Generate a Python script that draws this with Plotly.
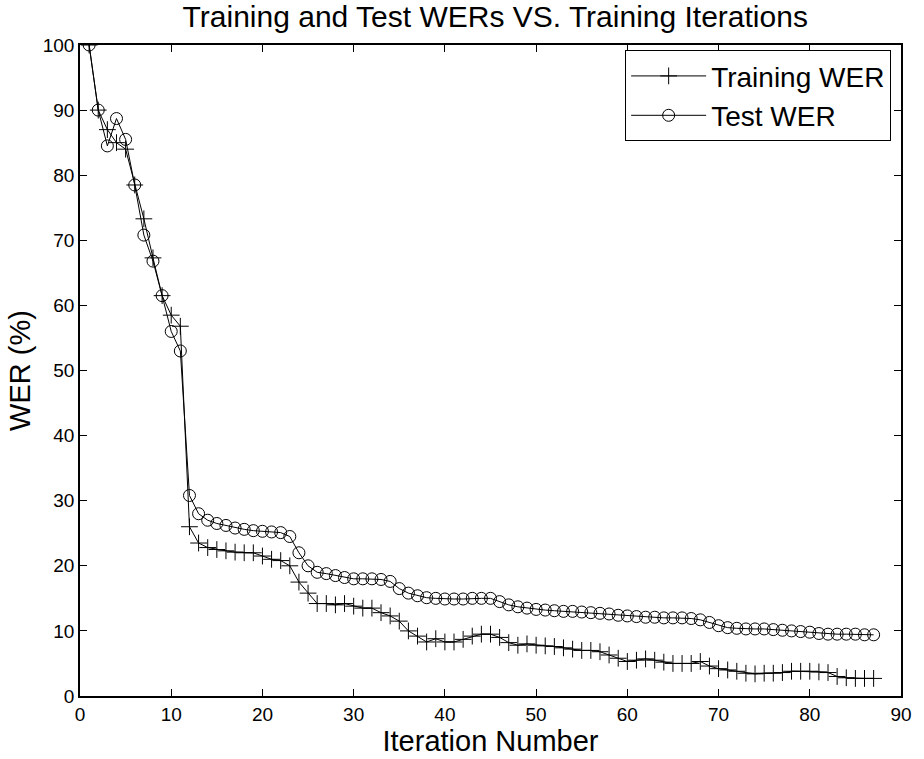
import plotly.graph_objects as go

iterations = list(range(1, 88))

training_wer = [100, 90, 87, 85, 84, 78.5, 73.3, 67.3, 61.5, 58.5,
                56.8, 26, 23.5, 22.8, 22.5, 22.3, 22.1, 22, 22, 21.5,
                21, 20.8, 20, 17.5, 15.8, 14.2, 14.2, 14, 14.2, 13.8,
                13.5, 13.5, 12.8, 12.3, 11.5, 10, 9.2, 8.3, 8.8, 8.3,
                8.3, 8.7, 9.2, 9.5, 9.5, 9, 8.2, 7.8, 8, 7.8,
                7.7, 7.6, 7.4, 7.2, 7, 7, 6.8, 6.3, 5.8, 5.3,
                5.5, 5.7, 5.5, 5.2, 5, 5, 5, 5.3, 4.6, 4.2,
                4, 3.8, 3.5, 3.4, 3.5, 3.5, 3.6, 3.8, 3.8, 3.8,
                3.7, 3.6, 3, 2.8, 2.7, 2.7, 2.7]

test_wer = [100, 90, 84.5, 88.7, 85.5, 78.5, 70.8, 66.8, 61.5, 56,
            53, 30.8, 28, 27, 26.5, 26.2, 25.8, 25.6, 25.4, 25.3,
            25.2, 25.1, 24.5, 22, 20, 19, 18.8, 18.5, 18.2, 18,
            18, 18, 17.9, 17.6, 16.5, 15.8, 15.4, 15.1, 15, 14.9,
            14.9, 14.9, 15, 15, 15, 14.5, 14, 13.7, 13.5, 13.3,
            13.2, 13.1, 13, 13, 12.9, 12.8, 12.7, 12.6, 12.4, 12.3,
            12.2, 12.1, 12.1, 12, 12, 12, 11.9, 11.7, 11.3, 10.8,
            10.5, 10.4, 10.3, 10.3, 10.3, 10.2, 10.1, 10, 9.9, 9.8,
            9.6, 9.5, 9.5, 9.5, 9.5, 9.4, 9.4]

x_ticks = [0, 10, 20, 30, 40, 50, 60, 70, 80, 90]
y_ticks = [0, 10, 20, 30, 40, 50, 60, 70, 80, 90, 100]

FONT = "Liberation Sans, Arial, Helvetica, sans-serif"

fig = go.Figure()
fig.add_trace(go.Scatter(
    x=iterations, y=training_wer, mode="lines+markers", name="Training WER",
    line=dict(color="black", width=1),
    marker=dict(symbol="cross-thin-open", size=12, color="black",
                line=dict(color="black", width=1)),
))
fig.add_trace(go.Scatter(
    x=iterations, y=test_wer, mode="lines+markers", name="Test WER",
    line=dict(color="black", width=1),
    marker=dict(symbol="circle-open", size=12, color="black",
                line=dict(color="black", width=1)),
))

axis_common = dict(
    showline=True, linecolor="black", linewidth=1.5, mirror="ticks",
    ticks="inside", ticklen=7, tickcolor="black", tickwidth=1,
    showgrid=False, zeroline=False,
    tickfont=dict(family=FONT, size=19, color="black"),
)

fig.update_layout(
    width=924, height=759,
    margin=dict(l=80, r=13, t=45, b=59),
    paper_bgcolor="white", plot_bgcolor="white",
    title=dict(text="Training and Test WERs VS. Training Iterations",
               font=dict(family=FONT, size=30, color="black"),
               x=0.536, xanchor="center", y=0.978, yanchor="middle"),
    xaxis=dict(range=[0, 90], tickvals=x_ticks,
               title=dict(text="Iteration Number", standoff=2,
                          font=dict(family=FONT, size=29, color="black")),
               **axis_common),
    yaxis=dict(range=[0, 100], tickvals=y_ticks,
               title=dict(text="WER (%)", standoff=4,
                          font=dict(family=FONT, size=29, color="black")),
               **axis_common),
    legend=dict(x=0.988, y=0.992, xanchor="right", yanchor="top",
                bordercolor="black", borderwidth=1, bgcolor="white",
                font=dict(family=FONT, size=28, color="black"),
                tracegroupgap=0, itemwidth=75),
    showlegend=True,
)

fig.write_html("out.html")
